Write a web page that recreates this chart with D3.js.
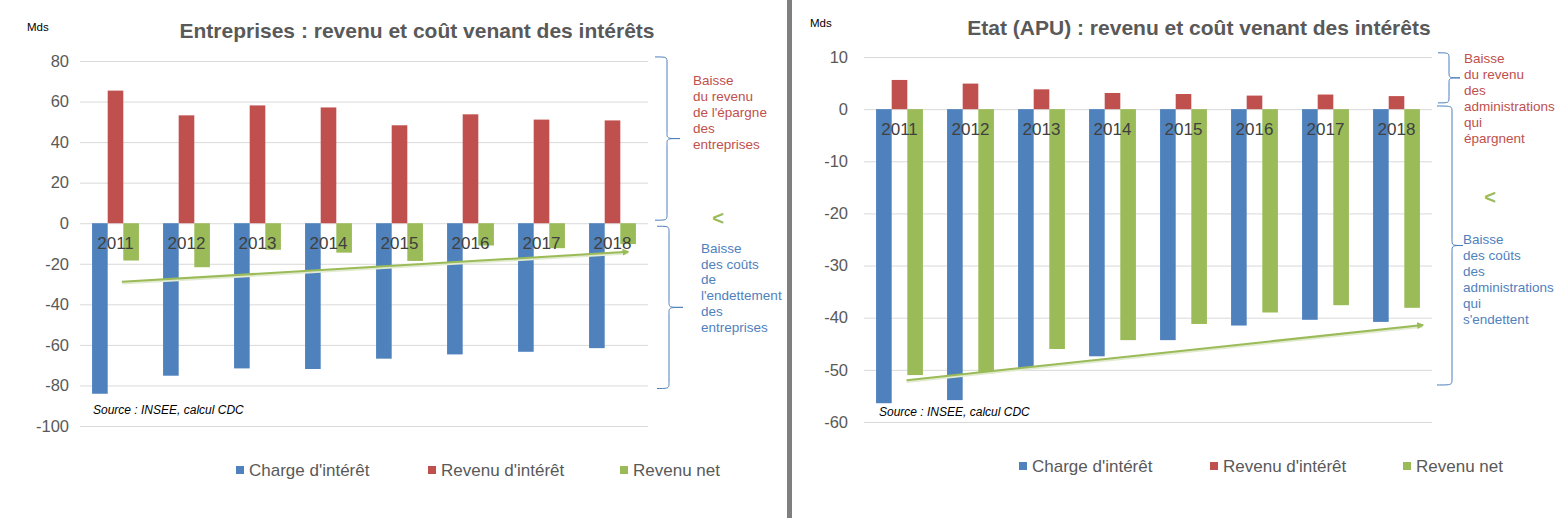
<!DOCTYPE html>
<html>
<head>
<meta charset="utf-8">
<script src="https://cdn.jsdelivr.net/npm/d3@7"></script>
<style>
    body { margin: 0; background: #fff; }
    svg { display: block; font-family: "Liberation Sans", Arial, sans-serif; }
</style>
</head>
<body>
<div class="vis"></div>
<script>
    const years = ["2011", "2012", "2013", "2014", "2015", "2016", "2017", "2018"];
    const series = ["Charge d'intérêt", "Revenu d'intérêt", "Revenu net"];

    // Entreprises, Mds
    const entCharge = [-84.1, -75.2, -71.6, -71.9, -66.8, -64.7, -63.4, -61.6];
    const entRevenu = [65.4, 53.2, 58.1, 57.1, 48.3, 53.7, 51.1, 50.7];
    const entNet = [-18.4, -21.7, -13.1, -14.5, -18.6, -11.0, -12.3, -10.3];
    const entTicks = [80, 60, 40, 20, 0, -20, -40, -60, -80, -100];
    const entTrend = [-28.9, -14.1];
    const entBraces = [[82, 1.5], [-1.5, -81.5]];

    // Etat (APU), Mds
    const apuCharge = [-56.4, -55.8, -49.7, -47.4, -44.3, -41.5, -40.4, -40.8];
    const apuRevenu = [5.6, 4.9, 3.8, 3.1, 2.9, 2.6, 2.8, 2.5];
    const apuNet = [-51.0, -50.7, -46.0, -44.3, -41.2, -39.0, -37.6, -38.1];
    const apuTicks = [10, 0, -10, -20, -30, -40, -50, -60];
    const apuTrend = [-52.0, -41.4];
    const apuBraces = [[10.8, 1.2], [0.6, -52.9]];

    const entNoteRevenu = ["Baisse", "du revenu", "de l'épargne", "des", "entreprises"];
    const entNoteCout = ["Baisse", "des coûts", "de", "l'endettement", "des", "entreprises"];
    const apuNoteRevenu = ["Baisse", "du revenu", "des", "administrations", "qui", "épargnent"];
    const apuNoteCout = ["Baisse", "des coûts", "des", "administrations", "qui", "s'endettent"];

    const colors = ["#4f81bd", "#c0504d", "#9bbb59"];

    const dimensions = { width: 1568, height: 518 };

    const panels = [
        {
            title: "Entreprises : revenu et coût venant des intérêts",
            titleX: 417, titleY: 38, mdsX: 27, mdsY: 31,
            values: [entCharge, entRevenu, entNet],
            ticks: entTicks, domain: [-100, 80],
            left: 80, right: 648, top: 61, bottom: 426, tickGap: 11,
            trend: entTrend, trendFrom: 0.59, trendTo: 0.72,
            braces: entBraces, braceOff: [[7, 19, 13], [9, 21, 14]],
            notes: [
                { lines: entNoteRevenu, x: 693, y: 85, lh: 16, color: "#c0504d" },
                { lines: entNoteCout, x: 701, y: 253, lh: 15.7, color: "#4f81bd" }
            ],
            lt: [718, 225],
            sourceX: 93, sourceY: 414,
            legendX: [236, 428, 620], legendY: 470
        },
        {
            title: "Etat (APU) : revenu et coût venant des intérêts",
            titleX: 1199, titleY: 35, mdsX: 810, mdsY: 27,
            values: [apuCharge, apuRevenu, apuNet],
            ticks: apuTicks, domain: [-60, 10],
            left: 864, right: 1432, top: 57, bottom: 422, tickGap: 16,
            trend: apuTrend, trendFrom: 0.6, trendTo: 0.87,
            braces: apuBraces, braceOff: [[6, 17, 11], [5, 20, 11]],
            notes: [
                { lines: apuNoteRevenu, x: 1464, y: 62.5, lh: 16, color: "#c0504d" },
                { lines: apuNoteCout, x: 1463, y: 244, lh: 16, color: "#4f81bd" }
            ],
            lt: [1490, 204],
            sourceX: 879, sourceY: 415.5,
            legendX: [1019, 1210, 1403], legendY: 466
        }
    ];

    const svg = d3.select(".vis").append("svg")
        .attr("width", dimensions.width)
        .attr("height", dimensions.height);

    svg.append("defs").append("marker")
        .attr("id", "arrow")
        .attr("viewBox", "0 0 10 10")
        .attr("refX", 8).attr("refY", 5)
        .attr("markerWidth", 3.5).attr("markerHeight", 3.5)
        .attr("orient", "auto")
        .append("path")
        .attr("d", "M0,0L10,5L0,10z")
        .attr("fill", "#9bbb59");

    // separator between the two charts
    svg.append("rect")
        .attr("x", 787).attr("y", 0)
        .attr("width", 5).attr("height", dimensions.height)
        .attr("fill", "#7f7f7f");

    panels.forEach(p => drawPanel(p));

    function bracePath(x0, xv, t, y0, y1) {
        const ym = (y0 + y1) / 2;
        const r = Math.min(6, (y1 - y0) / 4);
        return `M${x0},${y0}C${xv},${y0} ${xv},${y0} ${xv},${y0 + r}` +
            `L${xv},${ym - r}C${xv},${ym} ${xv},${ym} ${xv + t},${ym}` +
            `M${xv + t},${ym}C${xv},${ym} ${xv},${ym} ${xv},${ym + r}` +
            `L${xv},${y1 - r}C${xv},${y1} ${xv},${y1} ${x0},${y1}`;
    }

    function drawPanel(p) {
        const g = svg.append("g");

        const x = d3.scaleBand()
            .domain(years)
            .range([p.left, p.right]);

        const y = d3.scaleLinear()
            .domain(p.domain)
            .range([p.bottom, p.top]);

        const group = x.bandwidth() * 0.66;
        const x1 = d3.scaleBand()
            .domain(d3.range(series.length))
            .range([(x.bandwidth() - group) / 2, (x.bandwidth() + group) / 2]);

        // gridlines
        g.append("g")
            .call(d3.axisLeft(y).tickValues(p.ticks).tickSize(-(p.right - p.left)).tickFormat(""))
            .attr("transform", `translate(${p.left},0)`)
            .call(a => a.select(".domain").remove())
            .call(a => a.selectAll("line").attr("stroke", "#d9d9d9"));

        // tick labels, plain hyphen for negatives
        g.append("g")
            .attr("transform", `translate(${p.left - p.tickGap},0)`)
            .call(d3.axisLeft(y).tickValues(p.ticks).tickSize(0).tickPadding(0).tickFormat(d => String(d)))
            .call(a => a.select(".domain").remove())
            .call(a => a.selectAll("text")
                .attr("fill", "#595959")
                .style("font-size", "16.5px")
                .style("font-family", "'Liberation Sans', Arial, sans-serif"));

        // bars
        const rows = years.map((yr, i) => p.values.map((s, k) => ({ year: yr, k: k, v: s[i] })));
        g.selectAll(".year")
            .data(rows)
            .enter().append("g")
            .attr("class", "year")
            .attr("transform", d => `translate(${x(d[0].year)},0)`)
            .selectAll("rect")
            .data(d => d)
            .enter().append("rect")
            .attr("x", d => x1(d.k))
            .attr("width", x1.bandwidth())
            .attr("y", d => y(Math.max(0, d.v)))
            .attr("height", d => Math.abs(y(d.v) - y(0)))
            .attr("fill", d => colors[d.k]);

        // year labels just below zero
        g.selectAll(".yr")
            .data(years)
            .enter().append("text")
            .attr("x", d => x(d) + x.bandwidth() / 2)
            .attr("y", y(0) + 26)
            .attr("text-anchor", "middle")
            .attr("fill", "#404040")
            .style("font-size", "17px")
            .text(d => d);

        // trend arrow
        const tx0 = x(years[0]) + x.bandwidth() * p.trendFrom;
        const tx1 = x(years[years.length - 1]) + x.bandwidth() * p.trendTo;
        g.append("line")
            .attr("x1", tx0).attr("y1", y(p.trend[0]) + 1.5)
            .attr("x2", tx1).attr("y2", y(p.trend[1]) + 1.5)
            .attr("stroke", "#e2ebd0").attr("stroke-width", 2.5);
        g.append("line")
            .attr("x1", tx0).attr("y1", y(p.trend[0]))
            .attr("x2", tx1).attr("y2", y(p.trend[1]))
            .attr("stroke", "#9bbb59").attr("stroke-width", 2)
            .attr("marker-end", "url(#arrow)");

        // braces
        p.braces.forEach((b, i) => {
            const off = p.braceOff[i];
            g.append("path")
                .attr("d", bracePath(p.right + off[0], p.right + off[1], off[2], y(b[0]), y(b[1])))
                .attr("fill", "none")
                .attr("stroke", "#4a7ebb")
                .attr("stroke-width", 1);
        });

        // notes
        p.notes.forEach(n => {
            g.append("text")
                .attr("fill", n.color)
                .style("font-size", "13.5px")
                .selectAll("tspan")
                .data(n.lines)
                .enter().append("tspan")
                .attr("x", n.x)
                .attr("y", (d, i) => n.y + i * n.lh)
                .text(d => d);
        });

        g.append("text")
            .attr("x", p.lt[0]).attr("y", p.lt[1])
            .attr("text-anchor", "middle")
            .attr("fill", "#9bbb59")
            .style("font-size", "20px")
            .style("font-weight", "bold")
            .text("<");

        // title and unit
        g.append("text")
            .attr("x", p.titleX).attr("y", p.titleY)
            .attr("text-anchor", "middle")
            .attr("fill", "#595959")
            .style("font-size", "21px")
            .style("font-weight", "bold")
            .text(p.title);

        g.append("text")
            .attr("x", p.mdsX).attr("y", p.mdsY)
            .attr("fill", "#000")
            .style("font-size", "11.5px")
            .text("Mds");

        g.append("text")
            .attr("x", p.sourceX).attr("y", p.sourceY)
            .attr("fill", "#000")
            .style("font-size", "12px")
            .style("font-style", "italic")
            .text("Source : INSEE, calcul CDC");

        // legend
        const leg = g.selectAll(".leg")
            .data(series)
            .enter().append("g")
            .attr("class", "leg")
            .attr("transform", (d, i) => `translate(${p.legendX[i]},${p.legendY})`);
        leg.append("rect")
            .attr("x", 0).attr("y", -4)
            .attr("width", 8).attr("height", 8)
            .attr("fill", (d, i) => colors[i]);
        leg.append("text")
            .attr("x", 13).attr("y", 6)
            .attr("fill", "#595959")
            .style("font-size", "17px")
            .text(d => d);
    }
</script>
</body>
</html>
